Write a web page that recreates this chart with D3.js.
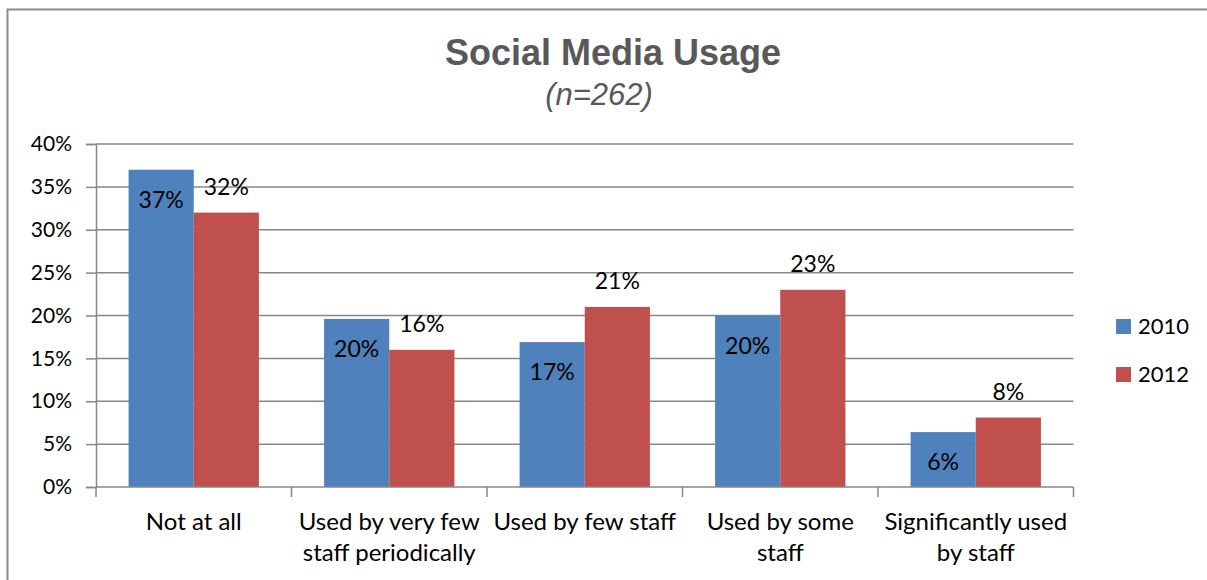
<!DOCTYPE html>
<html>
<head>
<meta charset="utf-8">
<script src="https://cdn.jsdelivr.net/npm/d3@7"></script>
<style>
  body { margin: 0; background: #fff; }
  svg { display: block; }
  text { font-family: Lato, "Open Sans", sans-serif; fill: #000; }
</style>
</head>
<body>
<div id="chart"></div>
<script>
// chart values
const categories = [
  ['Not at all'],
  ['Used by very few', 'staff periodically'],
  ['Used by few staff'],
  ['Used by some', 'staff'],
  ['Significantly used', 'by staff']
]
const seriesNames = ['2010', '2012']
const values2010 = [37, 19.6, 16.9, 20, 6.4]
const values2012 = [32, 16, 21, 23, 8.1]
const yTicks = [0, 5, 10, 15, 20, 25, 30, 35, 40]

const colors = { 2010: '#4f81bd', 2012: '#c0504d' }
const gridColor = '#878787'

const width = 1207
const height = 580
const plot = { left: 96, right: 1073.5, top: 144, bottom: 487 }

const svg = d3.select('#chart').append('svg')
  .attr('width', width).attr('height', height)

// outer frame (only top and left edges show in the crop)
svg.append('path')
  .attr('d', 'M7.5,580 V9.5 H1207')
  .attr('fill', 'none').attr('stroke', '#8c8c8c').attr('stroke-width', 2)

// title
svg.append('text')
  .attr('x', 613).attr('y', 65)
  .attr('text-anchor', 'middle')
  .style('font-family', '"Liberation Sans", Arial, sans-serif')
  .style('font-weight', 'bold').style('font-size', '36px')
  .style('fill', '#595959')
  .text('Social Media Usage')

svg.append('text')
  .attr('x', 599).attr('y', 105)
  .attr('text-anchor', 'middle')
  .style('font-family', '"Liberation Sans", Arial, sans-serif')
  .style('font-style', 'italic').style('font-size', '31px')
  .style('fill', '#595959')
  .text('(n=262)')

const y = d3.scaleLinear().domain([0, 40]).range([plot.bottom, plot.top])
const x0 = d3.scaleBand().domain(d3.range(categories.length)).range([plot.left, plot.right])
const x1 = d3.scaleBand().domain(seriesNames).range([0, x0.bandwidth()]).paddingOuter(0.5)

// gridlines
svg.append('g').selectAll('line')
  .data(yTicks.filter(t => t > 0)).join('line')
  .attr('x1', plot.left).attr('x2', plot.right)
  .attr('y1', d => y(d)).attr('y2', d => y(d))
  .attr('stroke', gridColor).attr('stroke-width', 1.5)

// y axis
const yAxis = svg.append('g')
  .attr('transform', `translate(${plot.left},0)`)
  .call(d3.axisLeft(y).tickValues(yTicks).tickSize(10).tickPadding(14).tickFormat(d => d + '%'))
yAxis.select('.domain').attr('stroke', gridColor).attr('stroke-width', 1.5)
yAxis.selectAll('.tick line').attr('stroke', gridColor).attr('stroke-width', 1.5)
yAxis.selectAll('.tick text').style('font-size', '21px').attr('fill', '#000')
  .style('font-family', 'Lato, sans-serif')

// bars
const rows = categories.map((c, i) => ({ i, vals: [values2010[i], values2012[i]] }))
const groups = svg.append('g').selectAll('g')
  .data(rows).join('g')
  .attr('transform', d => `translate(${x0(d.i)},0)`)

groups.selectAll('rect')
  .data(d => seriesNames.map((s, k) => ({ s, v: d.vals[k] })))
  .join('rect')
  .attr('x', d => x1(d.s))
  .attr('width', x1.bandwidth())
  .attr('y', d => y(d.v))
  .attr('height', d => y(0) - y(d.v))
  .attr('fill', d => colors[d.s])

// data labels: 2010 inside the top of the bar, 2012 above it
groups.selectAll('text.lbl')
  .data(d => seriesNames.map((s, k) => ({ s, v: d.vals[k] })))
  .join('text')
  .attr('class', 'lbl')
  .attr('x', d => x1(d.s) + x1.bandwidth() / 2)
  .attr('y', d => d.s === '2010' ? y(d.v) + 30 : y(d.v) - 26)
  .attr('dy', '0.35em')
  .attr('text-anchor', 'middle')
  .style('font-size', '23px')
  .text(d => Math.round(d.v) + '%')

// x axis
const xAxis = svg.append('g')
svg.append('line')
  .attr('x1', plot.left).attr('x2', plot.right)
  .attr('y1', plot.bottom).attr('y2', plot.bottom)
  .attr('stroke', gridColor).attr('stroke-width', 1.5)
xAxis.selectAll('line')
  .data(d3.range(categories.length + 1)).join('line')
  .attr('x1', d => plot.left + d * x0.step()).attr('x2', d => plot.left + d * x0.step())
  .attr('y1', plot.bottom).attr('y2', plot.bottom + 10)
  .attr('stroke', gridColor).attr('stroke-width', 1.5)

const catLabels = svg.append('g').selectAll('text')
  .data(categories).join('text')
  .attr('text-anchor', 'middle')
  .attr('transform', (d, i) => `translate(${x0(i) + x0.bandwidth() / 2},530)`)
  .style('font-size', '24px')
catLabels.selectAll('tspan')
  .data(d => d).join('tspan')
  .attr('x', 0).attr('y', (d, k) => k * 31)
  .text(d => d)

// legend
const legend = svg.append('g').selectAll('g')
  .data(seriesNames).join('g')
  .attr('transform', (d, i) => `translate(1116,${319 + i * 48})`)
legend.append('rect').attr('width', 15).attr('height', 15).attr('fill', d => colors[d])
legend.append('text').attr('x', 22).attr('y', 7.5).attr('dy', '0.35em')
  .style('font-size', '22px').text(d => d)
</script>
</body>
</html>
